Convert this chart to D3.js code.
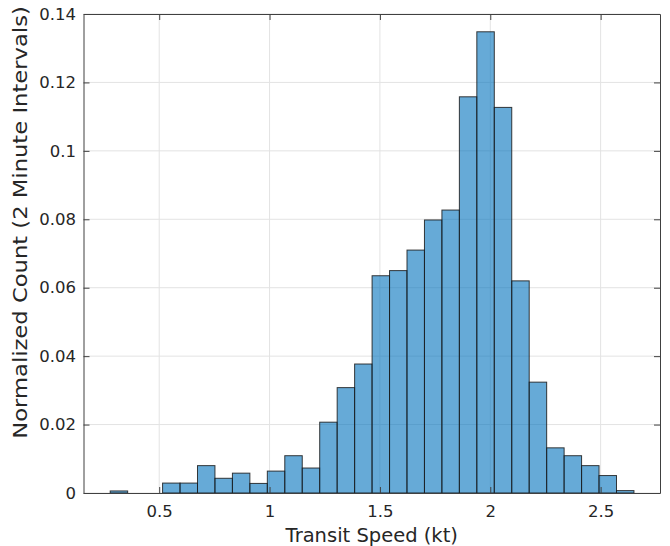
<!DOCTYPE html>
<html>
<head>
<meta charset="utf-8">
<script src="https://cdn.jsdelivr.net/npm/d3@7"></script>
<style>
	body { margin: 0; background: #fff; }
	text { font-family: "DejaVu Sans", sans-serif; fill: #262626; }
</style>
</head>
<body>
<div class="plot"></div>
<script>

// Histogram values (normalized count per bin)
const binStart = 0.278;
const binWidth = 0.0791;
const counts = [0.0006, 0, 0, 0.0029, 0.0029, 0.0080, 0.0043, 0.0058, 0.0028, 0.0064,
	0.0109, 0.0073, 0.0207, 0.0308, 0.0377, 0.0635, 0.0650, 0.0710, 0.0798, 0.0827,
	0.1158, 0.1348, 0.1127, 0.0620, 0.0324, 0.0132, 0.0109, 0.0080, 0.0051, 0.0007];

const xTicks = [0.5, 1, 1.5, 2, 2.5];
const yTicks = [0, 0.02, 0.04, 0.06, 0.08, 0.1, 0.12, 0.14];
const xDomain = [0.157, 2.769];
const yDomain = [0, 0.14];

const xLabel = 'Transit Speed (kt)';
const yLabel = 'Normalized Count (2 Minute Intervals)';

const W = 670, H = 546;
const margin = {left: 83.5, right: 10, top: 14, bottom: 53};

const bins = counts.map((c, i) => ({
	x0: binStart + i*binWidth,
	x1: binStart + (i+1)*binWidth,
	value: c
}));

const svg = d3.select('.plot').append('svg')
	.attr('width', W)
	.attr('height', H);

const x = d3.scaleLinear().domain(xDomain).range([margin.left, W - margin.right]);
const y = d3.scaleLinear().domain(yDomain).range([H - margin.bottom, margin.top]);

// Grid lines
const grid = svg.append('g').attr('stroke', '#e3e3e3').attr('stroke-width', 1);
grid.selectAll('.gx').data(xTicks).enter().append('line')
	.attr('x1', d => x(d)).attr('x2', d => x(d))
	.attr('y1', y.range()[0]).attr('y2', y.range()[1]);
grid.selectAll('.gy').data(yTicks).enter().append('line')
	.attr('x1', x.range()[0]).attr('x2', x.range()[1])
	.attr('y1', d => y(d)).attr('y2', d => y(d));

// Bars
svg.append('g').selectAll('rect')
	.data(bins)
	.enter().append('rect')
	.attr('x', d => x(d.x0))
	.attr('y', d => y(d.value))
	.attr('width', d => x(d.x1) - x(d.x0))
	.attr('height', d => y(0) - y(d.value))
	.attr('fill', '#0072BD')
	.attr('fill-opacity', 0.6)
	.attr('stroke', '#1a1a1a')
	.attr('stroke-opacity', 0.85)
	.attr('stroke-width', 1);

// Axes (ticks pointing inward, box on)
const tickLen = 6;
const axisStyle = g => {
	g.select('.domain').attr('stroke', '#404040');
	g.selectAll('.tick line').attr('stroke', '#404040');
	g.selectAll('.tick text').style('font-size', '16.5px').attr('fill', '#262626');
};

svg.append('g')
	.attr('transform', `translate(0,${y(0)})`)
	.call(d3.axisBottom(x).tickValues(xTicks).tickFormat(d3.format('~g'))
		.tickSizeInner(-tickLen).tickSizeOuter(0).tickPadding(12))
	.call(axisStyle);

svg.append('g')
	.attr('transform', `translate(0,${y(yDomain[1])})`)
	.call(d3.axisTop(x).tickValues(xTicks).tickFormat('')
		.tickSizeInner(-tickLen).tickSizeOuter(0))
	.call(axisStyle);

svg.append('g')
	.attr('transform', `translate(${x(xDomain[0])},0)`)
	.call(d3.axisLeft(y).tickValues(yTicks).tickFormat(d3.format('~g'))
		.tickSizeInner(-tickLen).tickSizeOuter(0).tickPadding(7.5))
	.call(axisStyle);

svg.append('g')
	.attr('transform', `translate(${x(xDomain[1])},0)`)
	.call(d3.axisRight(y).tickValues(yTicks).tickFormat('')
		.tickSizeInner(-tickLen).tickSizeOuter(0))
	.call(axisStyle);

// Axis labels
svg.append('text')
	.attr('x', (x.range()[0] + x.range()[1]) / 2)
	.attr('y', 541.5)
	.attr('text-anchor', 'middle')
	.style('font-size', '19.5px')
	.text(xLabel);

// y label is stretched a bit along its length in the reference
svg.append('text')
	.attr('transform', 'translate(27,222.5) rotate(-90) scale(1.163,1)')
	.attr('text-anchor', 'middle')
	.style('font-size', '19.5px')
	.text(yLabel);

</script>
</body>
</html>
